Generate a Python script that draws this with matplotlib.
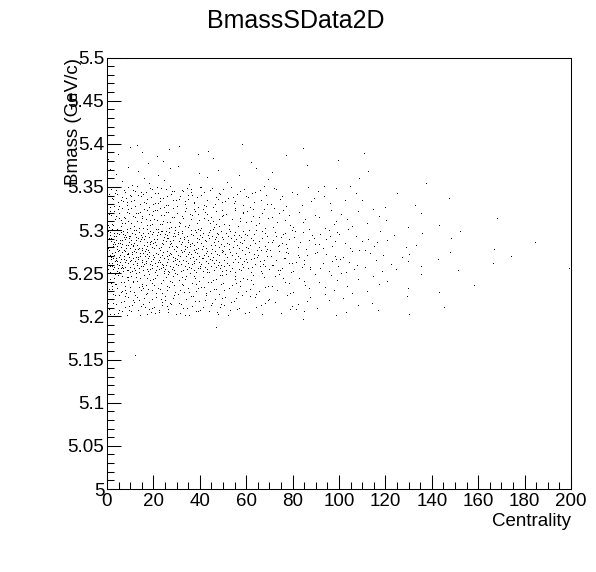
import numpy as np
import matplotlib
matplotlib.use("Agg")
import matplotlib.pyplot as plt
from matplotlib.ticker import MultipleLocator

plt.rcParams['font.family'] = ['Liberation Sans', 'DejaVu Sans']

# Histogram binning: centrality bins of 10, mass bins of 0.025 GeV
cent_edges = np.arange(0, 201, 10)
mass_edges = np.round(np.arange(5.15, 5.4001, 0.025), 3)

# estimated entries per cell, rows = mass bins from 5.150 upwards, cols = centrality 0..190
counts = [
    [0, 1, 0, 0, 0, 0, 0, 0, 0, 0, 0, 0, 0, 0, 0, 0, 0, 0, 0, 0],
    [0, 0, 0, 0, 1, 0, 0, 0, 1, 0, 0, 0, 0, 0, 0, 0, 0, 0, 0, 0],
    [22, 20, 18, 16, 13, 11, 8, 6, 5, 4, 3, 2, 1, 1, 1, 0, 0, 0, 0, 0],
    [27, 24, 21, 19, 16, 13, 11, 8, 6, 5, 4, 3, 2, 1, 1, 1, 0, 0, 0, 0],
    [52, 45, 40, 35, 31, 26, 20, 15, 11, 9, 7, 5, 4, 2, 2, 1, 1, 1, 0, 1],
    [50, 43, 38, 34, 30, 25, 20, 15, 10, 9, 7, 5, 3, 2, 1, 1, 1, 0, 1, 0],
    [27, 24, 21, 20, 16, 14, 11, 9, 6, 5, 4, 3, 2, 1, 1, 0, 1, 0, 0, 0],
    [24, 21, 20, 18, 15, 12, 10, 7, 5, 4, 3, 2, 1, 1, 1, 0, 0, 0, 0, 0],
    [4, 4, 3, 3, 2, 2, 2, 1, 1, 1, 1, 1, 0, 1, 0, 0, 0, 0, 0, 0],
    [3, 3, 3, 2, 2, 1, 1, 1, 1, 1, 0, 1, 0, 0, 0, 0, 0, 0, 0, 0],
]

title = "BmassSData2D"
xlabel = "Centrality"
ylabel = "Bmass (GeV/c)"


def halton(n, base):
    f, r = 1.0, 0.0
    while n > 0:
        f = f / base
        r = r + f * (n % base)
        n = n // base
    return r


# spread each cell's entries over the cell like ROOT's SCAT draw (fixed Halton layout)
xs, ys = [], []
k = 11
for i in range(len(mass_edges) - 1):
    for j in range(len(cent_edges) - 1):
        for m in range(counts[i][j]):
            k += 1
            u = halton(k, 2)
            v = halton(k, 3)
            xs.append(cent_edges[j] + u * (cent_edges[j + 1] - cent_edges[j]))
            ys.append(mass_edges[i] + v * (mass_edges[i + 1] - mass_edges[i]))

fig = plt.figure(figsize=(5.96, 5.72), dpi=100)
ax = fig.add_axes([107 / 596, 1 - 489 / 572, 464 / 596, 431.5 / 572])
ax.plot(xs, ys, ',', color='black')

ax.set_xlim(0, 200)
ax.set_ylim(5.0, 5.5)
ax.xaxis.set_major_locator(MultipleLocator(20))
ax.xaxis.set_minor_locator(MultipleLocator(5))
ax.yaxis.set_major_locator(MultipleLocator(0.05))
ax.yaxis.set_minor_locator(MultipleLocator(0.01))
ax.xaxis.set_major_formatter(plt.FuncFormatter(lambda v, p: "%g" % round(v, 2)))
ax.yaxis.set_major_formatter(plt.FuncFormatter(lambda v, p: "%g" % round(v, 2)))

ax.tick_params(which='both', direction='in', top=False, right=False,
               width=0.75, labelsize=13.5, colors='black')
ax.tick_params(which='major', length=10)
ax.tick_params(which='minor', length=5)
ax.tick_params(axis='x', pad=3)
ax.tick_params(axis='y', pad=2)
for s in ax.spines.values():
    s.set_linewidth(0.75)

fig.text(0.497, 1 - 21 / 572, title, ha='center', va='center', fontsize=18)
fig.text(571 / 596, 1 - 521 / 572, xlabel, ha='right', va='center', fontsize=13.5)
fig.text(73 / 596, 1 - 58 / 572, ylabel, ha='center', va='top', rotation=90, fontsize=13.5)

fig.savefig("out.png", dpi=100)
